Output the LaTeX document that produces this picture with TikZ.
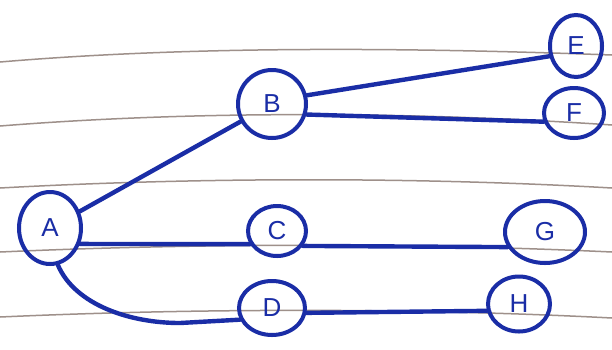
\documentclass[tikz,border=0pt]{standalone}
\usepackage{fontspec}
\setmainfont{Liberation Sans}
\usetikzlibrary{shapes.geometric}
\definecolor{ink}{HTML}{1A2DA6}
\definecolor{rule}{HTML}{9E908A}
\tikzset{
  vert/.style={ellipse, draw=ink, line width=4pt, inner sep=0pt, text=ink,
               font=\fontsize{26}{26}\selectfont},
  edge/.style={draw=ink, line width=4.4pt, line cap=round},
  ruling/.style={draw=rule, line width=1.5pt}
}
\begin{document}
\begin{tikzpicture}[x=1pt,y=-1pt]
\useasboundingbox (0,0) rectangle (612,349);
\fill[white] (0,0) rectangle (612,349);
% ruled paper lines
\draw[ruling] (0,62) .. controls (200,45) and (420,48) .. (612,55);
\draw[ruling] (0,126) .. controls (200,110) and (420,112) .. (612,125);
\draw[ruling] (0,188) .. controls (200,177) and (420,177) .. (612,188);
\draw[ruling] (0,252) .. controls (200,243) and (420,243) .. (612,252);
\draw[ruling] (0,317) .. controls (200,308) and (420,308) .. (612,318);
% nodes
\node[vert, minimum width=62pt, minimum height=72pt] (A) at (50,228) {A};
\node[vert, minimum width=68pt, minimum height=68pt] (B) at (272,104) {B};
\node[vert, minimum width=58pt, minimum height=50pt] (C) at (277,231) {C};
\node[vert, minimum width=66pt, minimum height=54pt] (D) at (272,308) {D};
\node[vert, minimum width=52pt, minimum height=62pt] (E) at (576,46) {E};
\node[vert, minimum width=60pt, minimum height=50pt] (F) at (574,113) {F};
\node[vert, minimum width=80pt, minimum height=62pt] (G) at (545,232) {G};
\node[vert, minimum width=62pt, minimum height=55pt] (H) at (519,304) {H};
% edges
\draw[edge] (A) -- (B);
\draw[edge] (A.-28) -- (C.206);
\draw[edge] (A.-78) .. controls (75,305) and (130,323) .. (180,323) -- (D.200);
\draw[edge] (B.14) -- (E.201);
\draw[edge] (B.-17) -- (F.196);
\draw[edge] (C.-30) -- (G.202);
\draw[edge] (D.-8) -- (H.192);
\end{tikzpicture}
\end{document}
